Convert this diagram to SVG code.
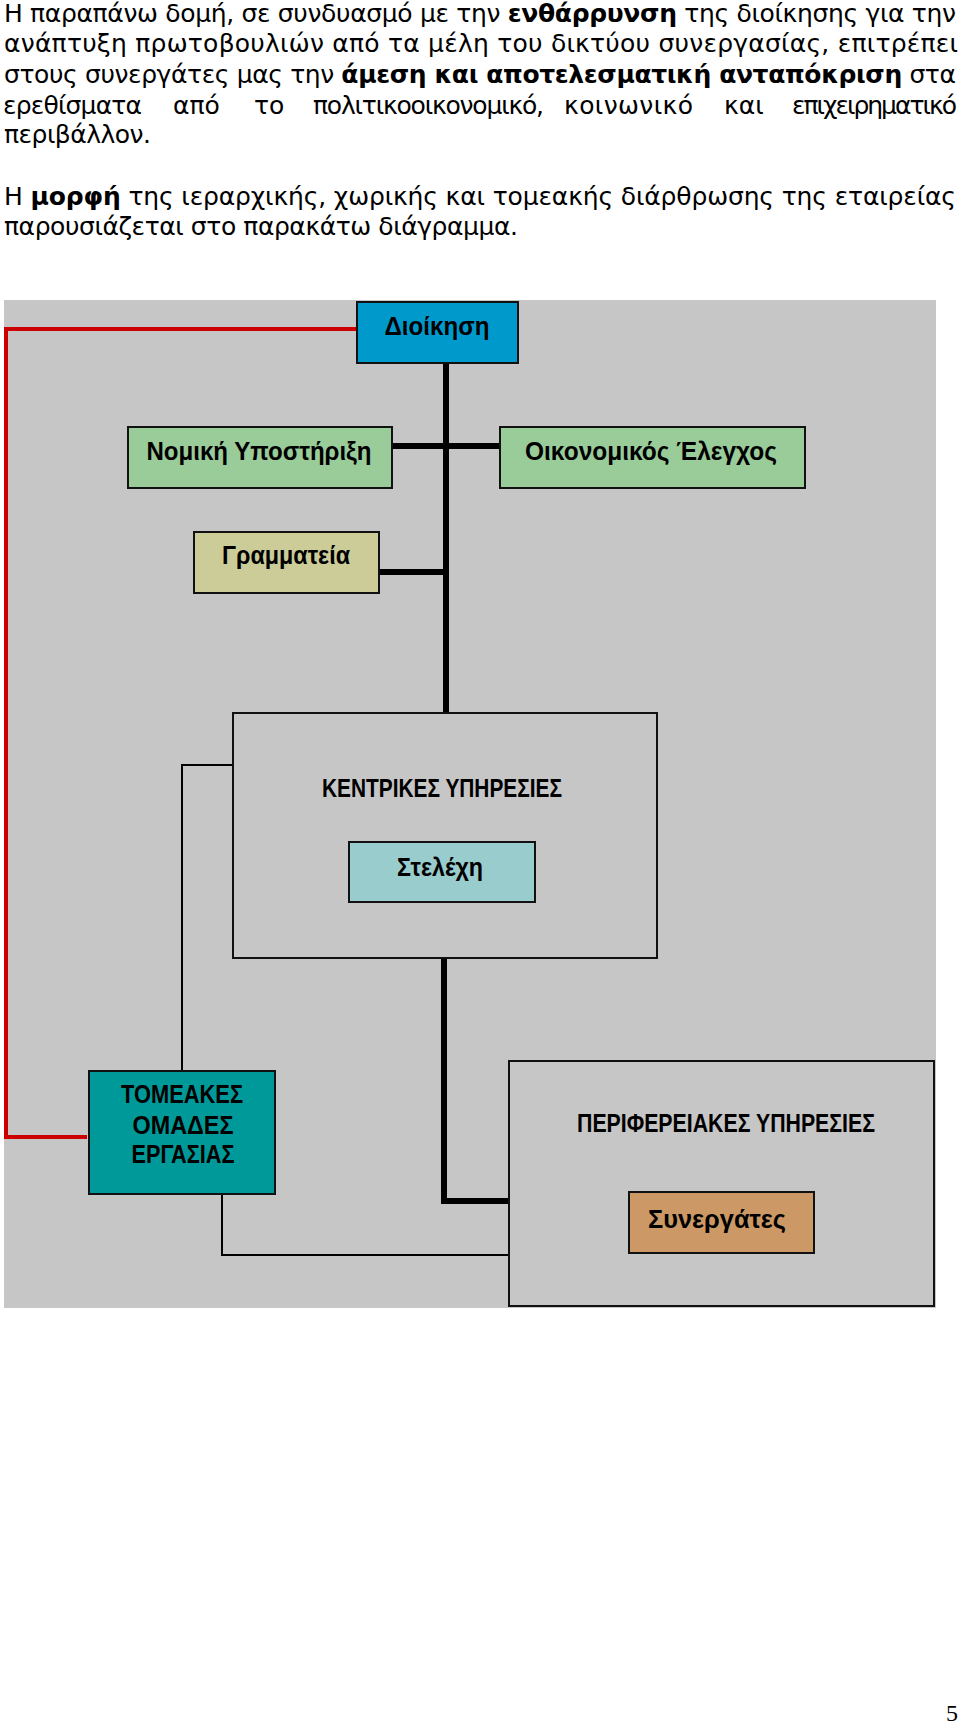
<svg xmlns="http://www.w3.org/2000/svg" width="960" height="1724" viewBox="0 0 960 1724">
<style>
.p{font-family:"DejaVu Sans","Liberation Sans",sans-serif;font-size:25px;fill:#000}
.b{font-weight:bold}
.lbl{font-family:"Liberation Sans","DejaVu Sans",sans-serif;font-size:25px;font-weight:bold;fill:#000;text-anchor:middle}
.box{stroke:#111;stroke-width:2}
.thick{fill:none;stroke:#000;stroke-width:6}
.thin{fill:none;stroke:#000;stroke-width:2}
.red{fill:none;stroke:#CC0000;stroke-width:4}
</style>
<rect width="960" height="1724" fill="#fff"/>
<g id="paragraph">
<text class="p" x="4" y="22" textLength="952" lengthAdjust="spacing">Η παραπάνω δομή, σε συνδυασμό με την <tspan class="b">ενθάρρυνση</tspan> της διοίκησης για την</text>
<text class="p" x="4" y="52" textLength="954" lengthAdjust="spacing">ανάπτυξη πρωτοβουλιών από τα μέλη του δικτύου συνεργασίας, επιτρέπει</text>
<text class="p" x="4" y="83" textLength="952" lengthAdjust="spacing">στους συνεργάτες μας την <tspan class="b">άμεση και αποτελεσματική ανταπόκριση</tspan> στα</text>
<text class="p" x="3" y="114" textLength="139" lengthAdjust="spacing">ερεθίσματα</text>
<text class="p" x="173" y="114">από</text>
<text class="p" x="254" y="114">το</text>
<text class="p" x="313" y="114" textLength="231" lengthAdjust="spacing">πολιτικοοικονομικό,</text>
<text class="p" x="564" y="114" textLength="129" lengthAdjust="spacing">κοινωνικό</text>
<text class="p" x="724" y="114">και</text>
<text class="p" x="792" y="114" textLength="165" lengthAdjust="spacing">επιχειρηματικό</text>
<text class="p" x="4" y="143" textLength="147" lengthAdjust="spacing">περιβάλλον.</text>
<text class="p" x="4" y="205" textLength="952" lengthAdjust="spacing">Η <tspan class="b">μορφή</tspan> της ιεραρχικής, χωρικής και τομεακής διάρθρωσης της εταιρείας</text>
<text class="p" x="4" y="235" textLength="514" lengthAdjust="spacing">παρουσιάζεται στο παρακάτω διάγραμμα.</text>
</g>
<rect id="background" x="4" y="300" width="932" height="1008" fill="#C6C6C6"/>
<g id="connectors">
<polyline class="red" points="357,329 6,329 6,1137 87,1137"/>
<line class="thick" x1="446" y1="363" x2="446" y2="713"/>
<line class="thick" x1="392" y1="446" x2="500" y2="446"/>
<line class="thick" x1="379" y1="572" x2="446" y2="572"/>
<polyline class="thick" points="444,958 444,1201 509,1201"/>
<polyline class="thin" points="233,765 182,765 182,1071"/>
<polyline class="thin" points="222,1194 222,1255 509,1255"/>
</g>
<g id="kentrikes">
<rect class="box" x="233" y="713" width="424" height="245" fill="#C6C6C6"/>
<text class="lbl" x="442" y="797" textLength="240" lengthAdjust="spacingAndGlyphs">ΚΕΝΤΡΙΚΕΣ ΥΠΗΡΕΣΙΕΣ</text>
</g>
<g id="perifereiakes">
<rect class="box" x="509" y="1061" width="425" height="245" fill="#C6C6C6"/>
<text class="lbl" x="726" y="1132" textLength="298" lengthAdjust="spacingAndGlyphs">ΠΕΡΙΦΕΡΕΙΑΚΕΣ ΥΠΗΡΕΣΙΕΣ</text>
</g>
<g id="dioikisi">
<rect class="box" x="357" y="302" width="161" height="61" fill="#0099CC"/>
<text class="lbl" x="437" y="335" textLength="105" lengthAdjust="spacingAndGlyphs">Διοίκηση</text>
</g>
<g id="nomiki">
<rect class="box" x="128" y="427" width="264" height="61" fill="#99CC99"/>
<text class="lbl" x="259" y="460" textLength="225" lengthAdjust="spacingAndGlyphs">Νομική Υποστήριξη</text>
</g>
<g id="oikonomikos">
<rect class="box" x="500" y="427" width="305" height="61" fill="#99CC99"/>
<text class="lbl" x="651" y="460" textLength="252" lengthAdjust="spacingAndGlyphs">Οικονομικός Έλεγχος</text>
</g>
<g id="grammateia">
<rect class="box" x="194" y="532" width="185" height="61" fill="#CCCC99"/>
<text class="lbl" x="286" y="564" textLength="128" lengthAdjust="spacingAndGlyphs">Γραμματεία</text>
</g>
<g id="stelexi">
<rect class="box" x="349" y="842" width="186" height="60" fill="#99CCCC"/>
<text class="lbl" x="440" y="876" textLength="86" lengthAdjust="spacingAndGlyphs">Στελέχη</text>
</g>
<g id="tomeakes">
<rect class="box" x="89" y="1071" width="186" height="123" fill="#009999"/>
<text class="lbl" x="182" y="1103" textLength="122" lengthAdjust="spacingAndGlyphs">ΤΟΜΕΑΚΕΣ</text>
<text class="lbl" x="183" y="1134" textLength="101" lengthAdjust="spacingAndGlyphs">ΟΜΑΔΕΣ</text>
<text class="lbl" x="183" y="1163" textLength="103" lengthAdjust="spacingAndGlyphs">ΕΡΓΑΣΙΑΣ</text>
</g>
<g id="synergates">
<rect class="box" x="629" y="1192" width="185" height="61" fill="#CC9966"/>
<text class="lbl" x="717" y="1228" textLength="138" lengthAdjust="spacingAndGlyphs">Συνεργάτες</text>
</g>
<text x="958" y="1721" font-family="'Liberation Serif',serif" font-size="24" text-anchor="end">5</text>
</svg>
